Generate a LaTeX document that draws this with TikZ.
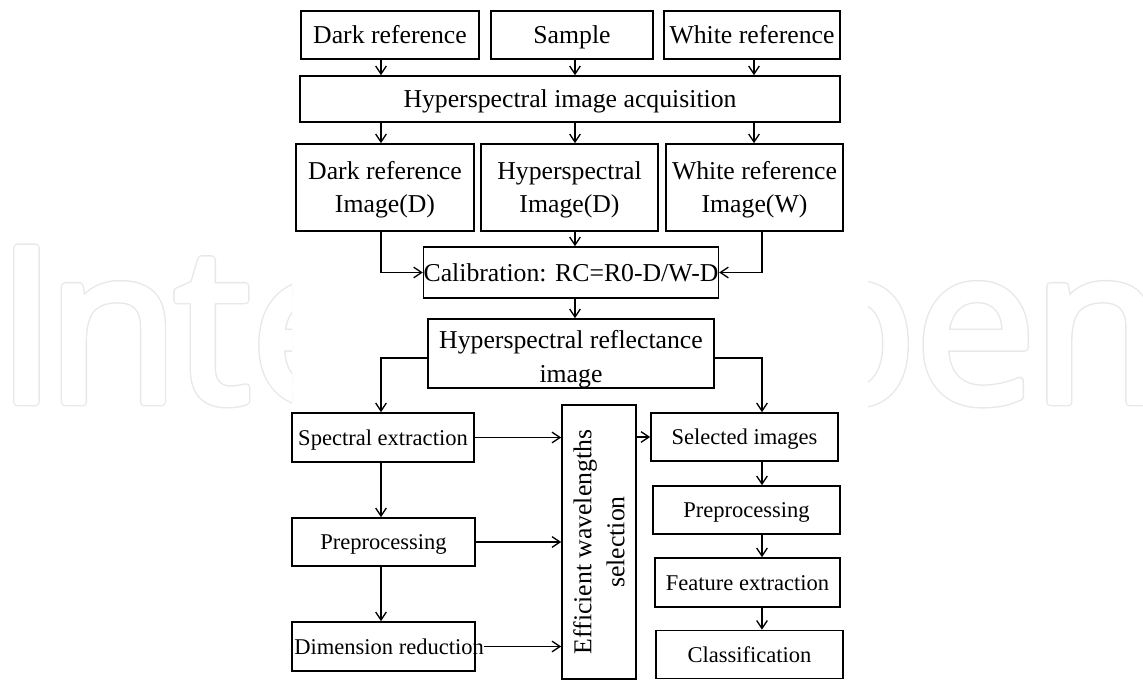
\documentclass[tikz,border=0pt]{standalone}
\usepackage{fontspec}
\setmainfont{Liberation Serif}
\newfontfamily\markfont{Open Sans}
\usetikzlibrary{arrows.meta,calc}

% glyphs filled and stroked with a wide round-joined pen (text render mode 2)
\newcommand\fatglyphs[1]{\special{pdf:literal direct 2 Tr #1 w 1 j}}
% the publisher mark, with its own letter spacing
\newcommand\markword{I\kern-7.5pt n\kern-3.75pt te\kern2.25pt c\kern2.25pt h\kern2.25pt Op\kern-1.5pt e\kern-3pt n}

\tikzset{
  box/.style={draw=black, line width=1.2pt, fill=none, inner sep=0pt,
    align=center, text height=13pt, text depth=0pt,
    font=\fontsize{19.3pt}{24.8pt}\selectfont},
  two line box/.style={box, text height=37.8pt},
  small box/.style={box, text height=11.3pt,
    font=\fontsize{16.9pt}{21pt}\selectfont},
  label text/.style={inner sep=0pt, font=\fontsize{19.3pt}{24.8pt}\selectfont},
  small text/.style={inner sep=0pt, text height=11.3pt, text depth=0pt,
    font=\fontsize{16.9pt}{21pt}\selectfont},
  flow/.style={draw=black, line width=1pt,
    -{Straight Barb[length=6pt,width=8pt,line width=1pt]}},
  wm/.style={anchor=base west, inner sep=0pt,
    font=\markfont\fontsize{162pt}{162pt}\selectfont}
}

\begin{document}
\begin{tikzpicture}[x=0.75pt,y=-0.75pt]
\useasboundingbox (0,0) rectangle (1143,679);
\fill[white] (0,0) rectangle (1143,679);

% publisher mark: hollow letters, a thin grey rim round a white core
\coordinate (wmpos) at (-4,402);
\begin{scope}
  \clip (0,0) rectangle (292,679) (868,0) rectangle (1143,679);
  \node[wm, text=black!9] (markrim) at (wmpos) {\fatglyphs{6.6}\markword};
  \node[wm, text=white] (markcore) at (wmpos) {\fatglyphs{4.5}\markword};
\end{scope}

% inputs
\node[box, minimum width=178*0.75pt, minimum height=48*0.75pt] (dark)   at (390,35)   {Dark reference};
\node[box, minimum width=162*0.75pt, minimum height=48*0.75pt] (sample) at (572,35)   {Sample};
\node[box, minimum width=176*0.75pt, minimum height=48*0.75pt] (white)  at (752,35)   {White reference};

\node[box, minimum width=540*0.75pt, minimum height=46*0.75pt] (acq) at (570,99) {Hyperspectral image acquisition};

\coordinate (cA) at (381,0);
\coordinate (cB) at (575,0);
\coordinate (cC) at (754,0);
\coordinate (cD) at (762,0);

\draw[flow] (cA |- dark.south)   -- (cA |- acq.north);
\draw[flow] (cB |- sample.south) -- (cB |- acq.north);
\draw[flow] (cC |- white.south)  -- (cC |- acq.north);

% acquired images
\node[two line box, minimum width=178*0.75pt, minimum height=87*0.75pt] (dimg) at (385,187.5) {Dark reference\\Image(D)};
\node[two line box, minimum width=177*0.75pt, minimum height=87*0.75pt] (himg) at (569.5,187.5) {Hyperspectral\\Image(D)};
\node[two line box, minimum width=177*0.75pt, minimum height=87*0.75pt] (wimg) at (754.5,187.5) {White reference\\Image(W)};

\draw[flow] (cA |- acq.south) -- (cA |- dimg.north);
\draw[flow] (cB |- acq.south) -- (cB |- himg.north);
\draw[flow] (cC |- acq.south) -- (cC |- wimg.north);

% calibration
\node[box, minimum width=288*0.75pt, minimum height=51*0.75pt] (cal) at (571,272.5) {Calibration: RC=R0-D/W-D};
\draw[flow] (cB |- himg.south) -- (cB |- cal.north);
\draw[flow] (cA |- dimg.south) |- (cal.west);
\draw[flow] (cD |- wimg.south) |- (cal.east);

% reflectance image
\node[two line box, text height=42.8pt, minimum width=286*0.75pt, minimum height=69*0.75pt] (refl) at (571,353.5) {Hyperspectral reflectance\\image};
\draw[flow] (cB |- cal.south) -- (cB |- refl.north);
\coordinate (rl) at (428,358);
\coordinate (rr) at (714,358);

% spectral branch
\node[small box, minimum width=182*0.75pt, minimum height=49*0.75pt] (spec) at (383,437.5) {Spectral extraction};
\node[small box, minimum width=183*0.75pt, minimum height=48*0.75pt] (prel) at (383.5,542) {Preprocessing};
\node[small box, minimum width=183*0.75pt, minimum height=49*0.75pt] (dim)  at (383.5,646.5) {};
\node[small text, anchor=west] (dimtext) at (294,646.5) {Dimension reduction};

\draw[flow] (rl) -| (cA |- spec.north);
\draw[flow] (cA |- spec.south) -- (cA |- prel.north);
\draw[flow] (cA |- prel.south) -- (cA |- dim.north);

% wavelength selection
\node[box, minimum width=74*0.75pt, minimum height=274*0.75pt] (eff) at (599,542) {};
\node[label text, rotate=90, align=center] at (eff.center) {Efficient wavelengths\\selection};

\draw[flow] (spec.east) -- (eff.west |- spec.east);
\draw[flow] (prel.east) -- (eff.west |- prel.east);
\draw[flow] (dimtext.east |- dim.east) -- (eff.west |- dim.east);

% image branch
\node[small box, minimum width=187*0.75pt, minimum height=48*0.75pt] (sel)  at (744.5,437) {Selected images};
\node[small box, minimum width=187*0.75pt, minimum height=48*0.75pt] (prer) at (746.5,510) {Preprocessing};
\node[small box, minimum width=185*0.75pt, minimum height=49*0.75pt] (feat) at (747.5,582.5) {Feature extraction};
\node[small box, minimum width=187*0.75pt, minimum height=48*0.75pt] (cls)  at (749.5,654.5) {Classification};

\draw[flow] (rr) -| (cD |- sel.north);
\draw[flow] (eff.east |- sel.west) -- (sel.west);
\draw[flow] (cD |- sel.south)  -- (cD |- prer.north);
\draw[flow] (cD |- prer.south) -- (cD |- feat.north);
\draw[flow] (cD |- feat.south) -- (cD |- cls.north);
\end{tikzpicture}
\end{document}
